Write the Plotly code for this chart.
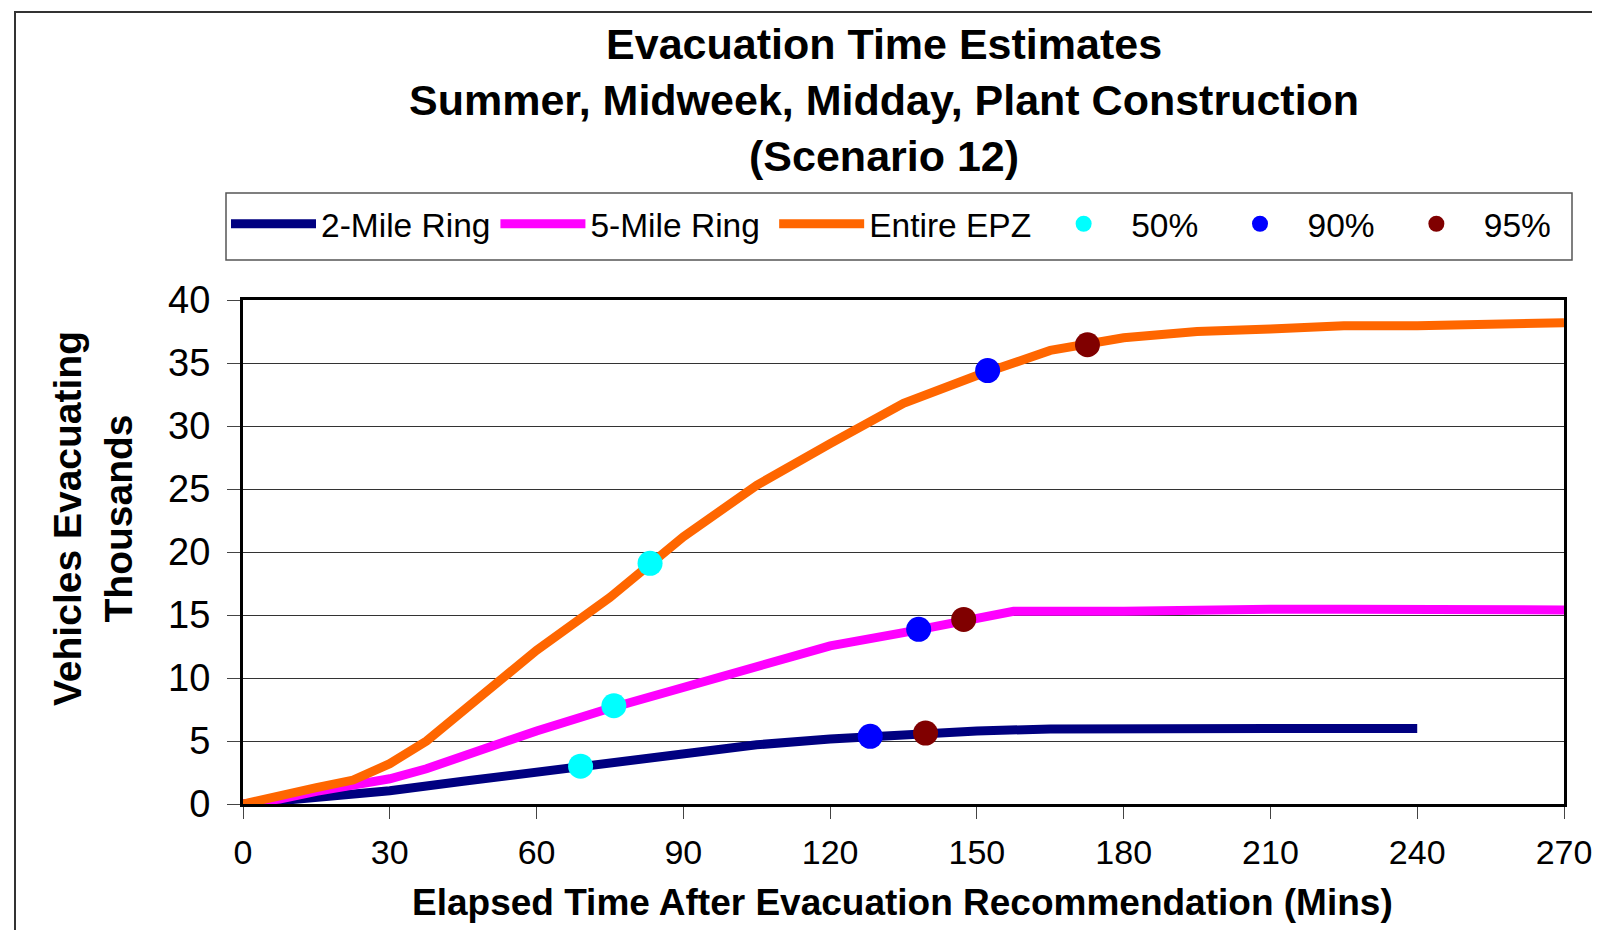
import plotly.graph_objects as go

# ---------------- data ----------------
t_2mile = [0, 15, 30, 45, 60, 75, 90, 105, 120, 135, 150, 165, 180, 195, 210, 225, 240]
v_2mile = [0, 0.5, 1.05, 1.8, 2.55, 3.3, 4.0, 4.7, 5.15, 5.5, 5.8, 5.95, 6.0, 6.0, 6.0, 6.0, 6.0]

t_5mile = [0, 7.5, 15, 22.5, 30, 37.5, 45, 60, 75, 90, 105, 120, 135, 150, 157.5, 180, 195, 210, 225, 240, 255, 270]
v_5mile = [0, 0.4, 1.0, 1.5, 2.0, 2.8, 3.8, 5.8, 7.6, 9.3, 10.9, 12.55, 13.6, 14.85, 15.3, 15.3, 15.45, 15.45, 15.45, 15.45, 15.45, 15.4]

t_epz = [0, 7.5, 15, 22.5, 30, 37.5, 45, 52.5, 60, 75, 90, 105, 120, 135, 150, 165, 180, 195, 210, 225, 240, 255, 270]
v_epz = [0, 0.7, 1.3, 1.9, 3.2, 5.0, 7.3, 9.8, 12.2, 16.4, 21.2, 25.3, 28.6, 31.8, 34.0, 36.0, 37.0, 37.5, 37.7, 37.95, 37.95, 38.05, 38.2]

t_50 = [69.0, 75.8, 83.2]
v_50 = [3.0, 7.8, 19.1]
t_90 = [128.2, 138.1, 152.2]
v_90 = [5.37, 13.86, 34.4]
t_95 = [139.5, 147.3, 172.6]
v_95 = [5.63, 14.65, 36.45]

x_ticks = [0, 30, 60, 90, 120, 150, 180, 210, 240, 270]
y_ticks = [0, 5, 10, 15, 20, 25, 30, 35, 40]

title_lines = ["Evacuation Time Estimates",
               "Summer, Midweek, Midday, Plant Construction",
               "(Scenario 12)"]
x_title = "Elapsed Time After Evacuation Recommendation (Mins)"
y_title_lines = ["Vehicles Evacuating", "Thousands"]

# ---------------- layout geometry (pixels) ----------------
W, H = 1600, 930
L, R, T, B = 235, 1556, 292, 796
PW, PH = R - L, B - T


def px(x):
    return (x - L) / PW


def py(y):
    return (B - y) / PH


FONT = "Liberation Sans, Arial, Helvetica, sans-serif"
NB = "\u00a0"  # trailing spacer to widen legend entries like the original

fig = go.Figure()
fig.add_trace(go.Scatter(x=t_2mile, y=v_2mile, mode="lines", name="2-Mile Ring",
                         line=dict(color="#000080", width=9)))
fig.add_trace(go.Scatter(x=t_5mile, y=v_5mile, mode="lines", name="5-Mile Ring" + NB,
                         line=dict(color="#FF00FF", width=9)))
fig.add_trace(go.Scatter(x=t_epz, y=v_epz, mode="lines", name="Entire EPZ",
                         line=dict(color="#FF6600", width=9)))
fig.add_trace(go.Scatter(x=t_50, y=v_50, mode="markers", name="50%" + NB,
                         marker=dict(color="#00FFFF", size=25)))
fig.add_trace(go.Scatter(x=t_90, y=v_90, mode="markers", name="90%" + NB,
                         marker=dict(color="#0000FF", size=25)))
fig.add_trace(go.Scatter(x=t_95, y=v_95, mode="markers", name="95%",
                         marker=dict(color="#800000", size=25)))

fig.update_layout(
    width=W, height=H,
    margin=dict(l=L, r=W - R, t=T, b=H - B, pad=0),
    paper_bgcolor="white", plot_bgcolor="white",
    font=dict(family=FONT, color="black"),
    showlegend=True,
    legend=dict(orientation="h", x=px(218), y=py(216), xanchor="left", yanchor="middle",
                borderwidth=0, bgcolor="rgba(0,0,0,0)",
                font=dict(size=33.5, family=FONT), itemwidth=85,
                traceorder="normal"),
    xaxis=dict(range=[0, 270], tickvals=x_ticks, ticktext=[str(v) for v in x_ticks],
               showgrid=False, zeroline=False,
               showline=True, linewidth=3, linecolor="black", mirror=True,
               ticks="outside", ticklen=12, tickwidth=1, tickcolor="#444444",
               tickfont=dict(size=34, family=FONT), ticklabelstandoff=4),
    yaxis=dict(range=[0, 40], tickvals=y_ticks, ticktext=[str(v) for v in y_ticks],
               showgrid=True, gridcolor="#333333", gridwidth=1, zeroline=False,
               showline=True, linewidth=3, linecolor="black", mirror=True,
               ticks="outside", ticklen=13, tickwidth=1, tickcolor="#444444",
               tickfont=dict(size=38, family=FONT), ticklabelstandoff=9),
)

fig.add_annotation(text="<br>".join(title_lines), xref="paper", yref="paper",
                   x=px(876), y=py(92), xanchor="center", yanchor="middle",
                   showarrow=False, align="center",
                   font=dict(size=43, family=FONT, color="black", weight="bold"))
fig.add_annotation(text=x_title, xref="paper", yref="paper",
                   x=px(894), y=py(894), xanchor="center", yanchor="middle",
                   showarrow=False, font=dict(size=37, family=FONT, color="black", weight="bold"))
fig.add_annotation(text="<br>".join(y_title_lines), xref="paper", yref="paper",
                   x=px(85), y=py(511), xanchor="center", yanchor="middle",
                   textangle=-90, showarrow=False, align="center",
                   font=dict(size=39, family=FONT, color="black", weight="bold"))

# legend frame
fig.add_shape(type="rect", xref="paper", yref="paper",
              x0=px(218), x1=px(1564), y0=py(185), y1=py(252),
              line=dict(color="#555555", width=1.5), fillcolor="white", layer="below")
# outer chart frame
fig.add_shape(type="rect", xref="paper", yref="paper",
              x0=px(7), x1=px(1640), y0=py(4), y1=py(980),
              line=dict(color="#333333", width=2), fillcolor="rgba(0,0,0,0)", layer="below")

fig.write_html("out.html")
